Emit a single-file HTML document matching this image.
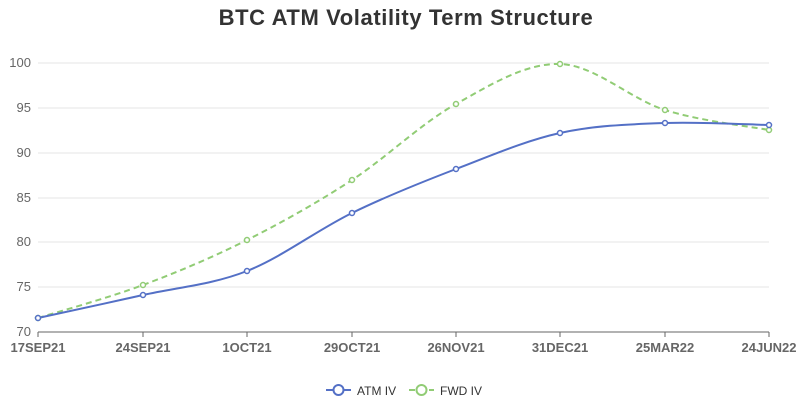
<!DOCTYPE html>
<html><head><meta charset="utf-8"><style>
body{margin:0;background:#fff;}
svg{display:block;font-family:"Liberation Sans",sans-serif;}
</style></head><body>
<svg width="812" height="403" viewBox="0 0 812 403">
<text x="406" y="25" text-anchor="middle" font-size="22" letter-spacing="0.6" font-weight="bold" fill="#333">BTC ATM Volatility Term Structure</text>
<g stroke="#e6e6e6" stroke-width="1">
<line x1="38" x2="769" y1="63" y2="63"/><line x1="38" x2="769" y1="108" y2="108"/>
<line x1="38" x2="769" y1="153" y2="153"/><line x1="38" x2="769" y1="198" y2="198"/>
<line x1="38" x2="769" y1="242" y2="242"/><line x1="38" x2="769" y1="287" y2="287"/>
</g>
<line x1="38" x2="769" y1="332" y2="332" stroke="#666"/>
<g stroke="#666">
<line x1="38" x2="38" y1="332" y2="337"/><line x1="143" x2="143" y1="332" y2="337"/>
<line x1="247" x2="247" y1="332" y2="337"/><line x1="352" x2="352" y1="332" y2="337"/>
<line x1="456" x2="456" y1="332" y2="337"/><line x1="560" x2="560" y1="332" y2="337"/>
<line x1="665" x2="665" y1="332" y2="337"/><line x1="769" x2="769" y1="332" y2="337"/>
</g>
<g font-size="13" fill="#666" text-anchor="end">
<text x="31" y="67">100</text><text x="31" y="112">95</text><text x="31" y="157">90</text>
<text x="31" y="202">85</text><text x="31" y="246">80</text><text x="31" y="291">75</text><text x="31" y="336">70</text>
</g>
<g font-size="13" font-weight="bold" fill="#666" text-anchor="middle">
<text x="38" y="352">17SEP21</text><text x="143" y="352">24SEP21</text><text x="247" y="352">1OCT21</text>
<text x="352" y="352">29OCT21</text><text x="456" y="352">26NOV21</text><text x="560" y="352">31DEC21</text>
<text x="665" y="352">25MAR22</text><text x="769" y="352">24JUN22</text>
</g>
<path fill="none" stroke="#91cc75" stroke-width="2" stroke-dasharray="6,4" d="M38,318 C55.5,312.5 108.2,298 143,285 C177.8,272 212.2,257.5 247,240 C281.8,222.5 317.2,202.7 352,180 C386.8,157.3 421.3,123.3 456,104 C490.7,84.7 525.2,63 560,64 C594.8,65 630.2,99 665,110 C699.8,121 751.7,126.7 769,130"/>
<path fill="none" stroke="#5470c6" stroke-width="2" d="M38,318 C55.5,314.2 108.2,302.8 143,295 C177.8,287.2 212.2,284.7 247,271 C281.8,257.3 317.2,230 352,213 C386.8,196 421.3,182.3 456,169 C490.7,155.7 525.2,140.7 560,133 C594.8,125.3 630.2,124.3 665,123 C699.8,121.7 751.7,124.7 769,125"/>
<g fill="#fff" stroke="#91cc75" stroke-width="1.5">
<circle cx="38" cy="318" r="2.5"/><circle cx="143" cy="285" r="2.5"/><circle cx="247" cy="240" r="2.5"/><circle cx="352" cy="180" r="2.5"/><circle cx="456" cy="104" r="2.5"/><circle cx="560" cy="64" r="2.5"/><circle cx="665" cy="110" r="2.5"/><circle cx="769" cy="130" r="2.5"/>
</g>
<g fill="#fff" stroke="#5470c6" stroke-width="1.5">
<circle cx="38" cy="318" r="2.5"/><circle cx="143" cy="295" r="2.5"/><circle cx="247" cy="271" r="2.5"/><circle cx="352" cy="213" r="2.5"/><circle cx="456" cy="169" r="2.5"/><circle cx="560" cy="133" r="2.5"/><circle cx="665" cy="123" r="2.5"/><circle cx="769" cy="125" r="2.5"/>
</g>
<line x1="326" x2="351" y1="390" y2="390" stroke="#5470c6" stroke-width="2"/>
<circle cx="338.5" cy="390" r="5" fill="#fff" stroke="#5470c6" stroke-width="2"/>
<text x="357" y="395" font-size="12" fill="#333">ATM IV</text>
<line x1="409" x2="434" y1="390" y2="390" stroke="#91cc75" stroke-width="2" stroke-dasharray="6,4"/>
<circle cx="421.5" cy="390" r="5" fill="#fff" stroke="#91cc75" stroke-width="2"/>
<text x="440" y="395" font-size="12" fill="#333">FWD IV</text>
</svg>
</body></html>
